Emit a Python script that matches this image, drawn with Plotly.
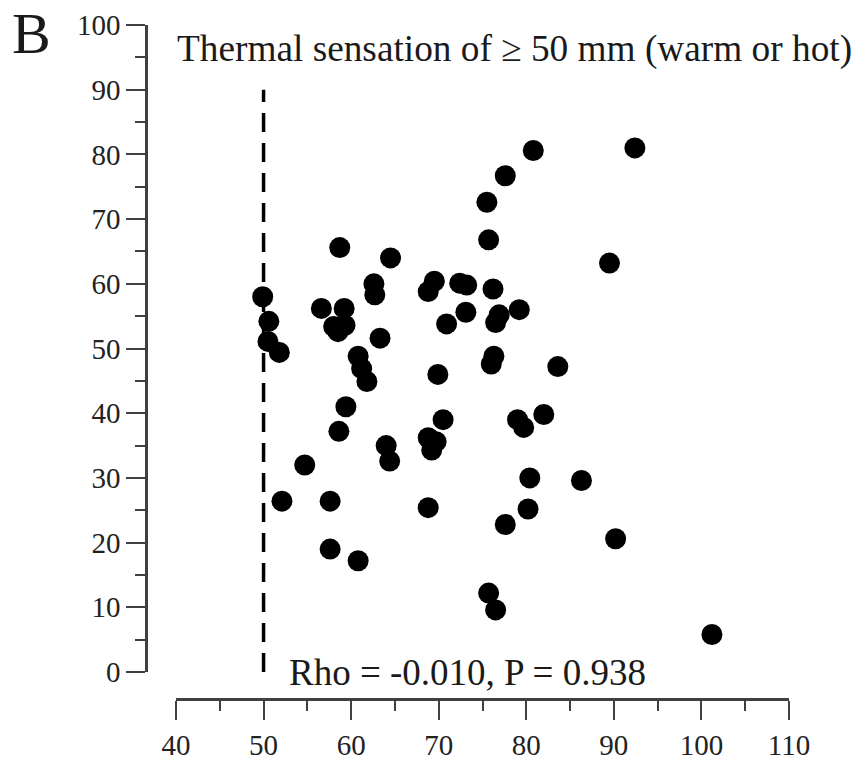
import plotly.graph_objects as go

# Data (x: value on x-axis, y: value on y-axis)
x_vals = [49.9, 50.6, 50.5, 51.8, 52.1, 54.7, 56.6, 57.6, 57.6, 58.0,
          58.7, 58.6, 59.2, 58.5, 59.3, 59.4, 60.8, 60.8, 61.2, 61.8,
          62.6, 62.7, 63.3, 64.0, 64.4, 64.5, 68.8, 68.8, 68.8, 69.5,
          69.2, 69.7, 69.9, 70.5, 70.9, 72.4, 73.2, 73.1, 75.5, 75.7,
          75.7, 76.0, 76.2, 76.3, 76.5, 76.9, 76.5, 77.6, 77.6, 79.2,
          79.0, 79.7, 80.4, 80.2, 80.8, 82.0, 83.6, 86.3, 89.5, 90.2,
          92.4, 101.2]
y_vals = [58.0, 54.2, 51.1, 49.4, 26.4, 32.0, 56.2, 19.0, 26.4, 53.4,
          65.6, 37.2, 56.2, 52.6, 53.6, 41.0, 48.8, 17.2, 46.9, 44.9,
          60.0, 58.3, 51.6, 35.0, 32.6, 64.0, 58.8, 36.2, 25.4, 60.4,
          34.3, 35.6, 46.0, 39.0, 53.8, 60.1, 59.8, 55.6, 72.6, 66.8,
          12.2, 47.6, 59.2, 48.8, 54.0, 55.2, 9.6, 76.7, 22.8, 56.0,
          39.0, 37.8, 30.0, 25.2, 80.6, 39.8, 47.2, 29.6, 63.2, 20.6,
          81.0, 5.8]

cutoff_x = [50, 50]
cutoff_y = [0, 90]

x_ticks = [40, 50, 60, 70, 80, 90, 100, 110]
y_ticks = [0, 10, 20, 30, 40, 50, 60, 70, 80, 90, 100]

title_text = "Thermal sensation of \u2265 50 mm (warm or hot)"
stat_text = "Rho = -0.010, P = 0.938"
panel_label = "B"

FONT = "Liberation Serif, Times New Roman, serif"
AX = "#404040"
TXT = "#1a1a1a"

W, H = 863, 761
ml, mr, mt, mb = 146, 63, 25, 62
pw = W - ml - mr
ph = H - mt - mb

def px_x(p):
    return (p - ml) / pw

def px_y(p):
    return (H - mb - p) / ph

fig = go.Figure()
fig.add_trace(go.Scatter(x=cutoff_x, y=cutoff_y, mode="lines",
                         line=dict(color="black", width=3.5, dash="19px,11px"),
                         hoverinfo="skip", showlegend=False))
fig.add_trace(go.Scatter(x=x_vals, y=y_vals, mode="markers",
                         marker=dict(color="black", size=21, line=dict(width=0)),
                         showlegend=False))

axis_common = dict(ticks="outside", ticklen=19, tickwidth=2, tickcolor=AX,
                   showline=True, linecolor=AX, linewidth=2.5,
                   showgrid=False, zeroline=False, automargin=False,
                   tickfont=dict(family=FONT, size=29, color="#222222"),
                   minor=dict(dtick=5, tick0=0, ticks="outside", ticklen=10,
                              tickwidth=2, tickcolor=AX, showgrid=False))

fig.update_layout(
    width=W, height=H,
    margin=dict(l=ml, r=mr, t=mt, b=mb, autoexpand=False),
    paper_bgcolor="white", plot_bgcolor="white",
    font=dict(family=FONT, color=TXT, size=29),
    xaxis=dict(range=[40, 110], domain=[px_x(176), px_x(789)],
               anchor="free", position=0, tickvals=x_ticks, **axis_common),
    yaxis=dict(range=[0, 100], domain=[px_y(672), 1],
               anchor="free", position=0, tickvals=y_ticks,
               ticklabelstandoff=0, **axis_common),
    annotations=[
        dict(text=title_text, xref="paper", yref="y", x=px_x(175), y=96.3,
             xanchor="left", yanchor="middle", showarrow=False,
             font=dict(family=FONT, size=37.3, color=TXT)),
        dict(text=stat_text, xref="x", yref="y", x=52.67, y=0,
             xanchor="left", yanchor="middle", showarrow=False,
             font=dict(family=FONT, size=37, color=TXT)),
        dict(text=panel_label, xref="paper", yref="paper", x=px_x(10), y=px_y(34),
             xanchor="left", yanchor="middle", showarrow=False,
             font=dict(family=FONT, size=58, color=TXT)),
    ],
)

fig.write_html("out.html")
